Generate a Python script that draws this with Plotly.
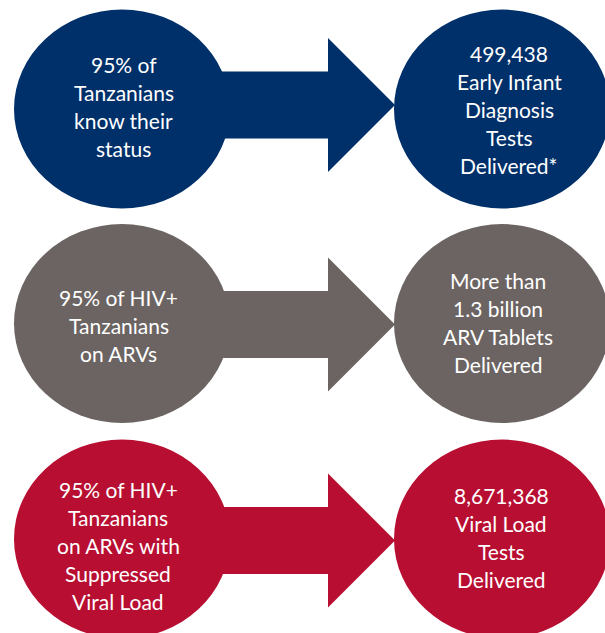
import plotly.graph_objects as go

# ---- content ----
row_colors = ["#00306a", "#6b6462", "#b80e31"]
goal_texts = [
    ["95% of", "Tanzanians", "know their", "status"],
    ["95% of HIV+", "Tanzanians", "on ARVs"],
    ["95% of HIV+", "Tanzanians", "on ARVs with", "Suppressed", "Viral Load"],
]
result_texts = [
    ["499,438", "Early Infant", "Diagnosis", "Tests", "Delivered*"],
    ["More than", "1.3 billion", "ARV Tablets", "Delivered"],
    ["8,671,368", "Viral Load", "Tests", "Delivered"],
]

# ---- layout geometry ----
W, H = 605, 633
row_cy = [109, 323.5, 539]
arrow_cy = [105, 324.5, 540.5]
left_cx, right_cx = 122, 502
rx, ry = 108, 99.5
shaft_end, tip_x = 328, 395
shaft_half, head_half = 33.5, 67
left_text_x = [123.5, 118.5, 118]
right_text_x = [509, 498, 501]
left_text_cy = [106.5, 325, 545]
right_text_cy = [109, 322, 537]
line_gap = 28
font = dict(family="Lato, 'Open Sans', sans-serif", size=21, color="white")

fig = go.Figure()
shapes = []
annotations = []

for i, color in enumerate(row_colors):
    cy = row_cy[i]
    ay = arrow_cy[i]
    shapes.append(dict(type="circle", xref="x", yref="y",
                       x0=left_cx - rx, x1=left_cx + rx, y0=cy - ry, y1=cy + ry,
                       fillcolor=color, line=dict(width=0)))
    path = (f"M {left_cx},{ay - shaft_half} L {shaft_end},{ay - shaft_half} "
            f"L {shaft_end},{ay - head_half} L {tip_x},{ay} "
            f"L {shaft_end},{ay + head_half} L {shaft_end},{ay + shaft_half} "
            f"L {left_cx},{ay + shaft_half} Z")
    shapes.append(dict(type="path", xref="x", yref="y", path=path,
                       fillcolor=color, line=dict(width=0)))
    shapes.append(dict(type="circle", xref="x", yref="y",
                       x0=right_cx - rx, x1=right_cx + rx, y0=cy - ry, y1=cy + ry,
                       fillcolor=color, line=dict(width=0)))

    for lines, tx, tcy in ((goal_texts[i], left_text_x[i], left_text_cy[i]),
                           (result_texts[i], right_text_x[i], right_text_cy[i])):
        n = len(lines)
        for k, line in enumerate(lines):
            y = tcy + (k - (n - 1) / 2) * line_gap
            annotations.append(dict(x=tx, y=y, xref="x", yref="y", text=line,
                                    showarrow=False, font=font,
                                    xanchor="center", yanchor="middle"))

fig.update_layout(
    width=W, height=H,
    margin=dict(l=0, r=0, t=0, b=0),
    paper_bgcolor="white", plot_bgcolor="white",
    xaxis=dict(range=[0, W], visible=False, fixedrange=True),
    yaxis=dict(range=[H, 0], visible=False, fixedrange=True),
    shapes=shapes, annotations=annotations,
    showlegend=False,
)

fig.write_html(
    "out.html",
    config={"displayModeBar": False},
    post_script="document.body.style.margin='0';document.body.style.overflow='hidden';",
)
